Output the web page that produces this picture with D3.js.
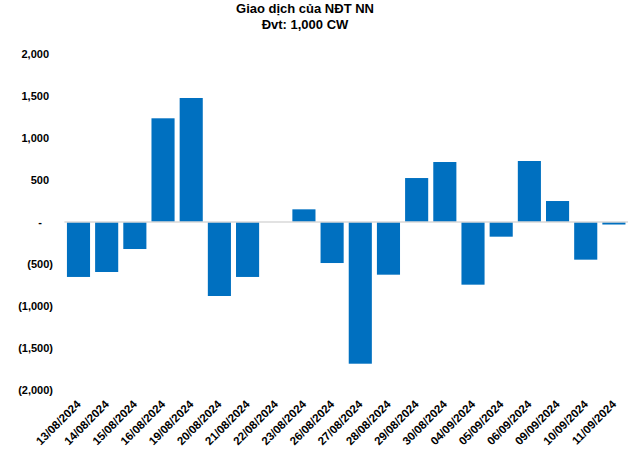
<!DOCTYPE html>
<html>
<head>
<meta charset="utf-8">
<script src="https://cdn.jsdelivr.net/npm/d3@7/dist/d3.min.js"></script>
<style>
  body { margin: 0; background: #fff; }
  svg { display: block; }
  text { font-family: "Liberation Sans", Arial, sans-serif; font-weight: bold; fill: #000; }
</style>
</head>
<body>
<svg id="chart" width="640" height="450"></svg>
<script>
const categories = ["13/08/2024","14/08/2024","15/08/2024","16/08/2024","19/08/2024","20/08/2024","21/08/2024","22/08/2024","23/08/2024","26/08/2024","27/08/2024","28/08/2024","29/08/2024","30/08/2024","04/09/2024","05/09/2024","06/09/2024","09/09/2024","10/09/2024","11/09/2024"];
const values = [-655, -596, -322, 1236, 1478, -882, -655, 0, 151, -489, -1689, -628, 524, 715, -747, -175, 727, 250, -449, -30];
const yTicks = [2000, 1500, 1000, 500, 0, -500, -1000, -1500, -2000];
const titleLines = ["Giao dịch của NĐT NN", "Đvt: 1,000 CW"];

const svg = d3.select("#chart");
const x = d3.scaleBand().domain(categories).range([64.4, 628]).paddingInner(0.18).paddingOuter(0.09);
const y = d3.scaleLinear().domain([-2000, 2000]).range([389.8, 54.2]);

const fmt = v => {
  if (v === 0) return "-";
  const s = d3.format(",")(Math.abs(v));
  return v < 0 ? "(" + s + ")" : s;
};

// title
svg.append("g").selectAll("text").data(titleLines).join("text")
  .attr("x", 305).attr("y", (d, i) => 13 + i * 16)
  .attr("text-anchor", "middle").style("font-size", "13px").text(d => d);

// y axis
const yAxis = d3.axisLeft(y).tickValues(yTicks).tickSize(0).tickPadding(0).tickFormat(fmt);
const gy = svg.append("g").attr("transform", "translate(53,0)").call(yAxis);
gy.select(".domain").remove();
gy.selectAll("text").style("font-size", "11px").style("font-family", "'Liberation Sans', Arial, sans-serif").style("font-weight", "bold")
  .attr("dx", d => d > 0 ? "-4px" : d === 0 ? "-11px" : "0px");

// bars
svg.append("g").selectAll("rect").data(values).join("rect")
  .attr("x", (d, i) => x(categories[i]))
  .attr("width", x.bandwidth())
  .attr("y", d => y(Math.max(0, d)))
  .attr("height", d => Math.abs(y(d) - y(0)))
  .attr("fill", "#0070c0");

// zero line
svg.append("line").attr("x1", 64.4).attr("x2", 628).attr("y1", y(0)).attr("y2", y(0))
  .attr("stroke", "#d9d9d9").attr("stroke-width", 1.5);

// x axis labels
const xAxis = d3.axisBottom(x).tickSize(0).tickPadding(0);
const gx = svg.append("g").attr("transform", "translate(0,394)").call(xAxis);
gx.select(".domain").remove();
gx.selectAll("text").style("font-size", "11.5px").style("font-family", "'Liberation Sans', Arial, sans-serif").style("font-weight", "bold")
  .attr("text-anchor", "end").attr("dy", "0").attr("y", 0)
  .attr("transform", "translate(3,11) rotate(-45)");
</script>
</body>
</html>
